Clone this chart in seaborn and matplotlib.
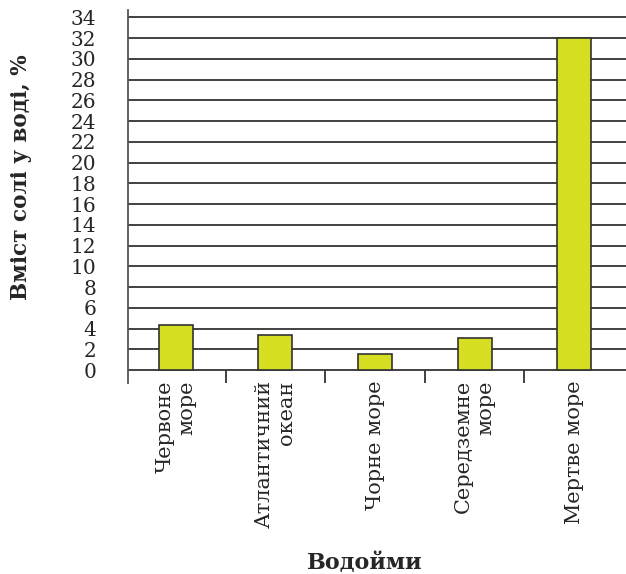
import matplotlib
matplotlib.use("Agg")
import matplotlib.pyplot as plt
import seaborn as sns
import pandas as pd

# data
categories = ["Червоне\nморе", "Атлантичний\nокеан", "Чорне море", "Середземне\nморе", "Мертве море"]
salt = [4.3, 3.4, 1.5, 3.1, 32]
yticks = list(range(0, 35, 2))

df = pd.DataFrame({"water": categories, "salt": salt})

sns.set_style("white")
plt.rcParams["font.family"] = ["DejaVu Serif"]

fig = plt.figure(figsize=(6.26, 5.74), dpi=100)
ax = fig.add_axes([128 / 626, 191 / 574, 498 / 626, 373 / 574])

line_col = "#333333"
sns.barplot(data=df, x="water", y="salt", color="#d6de22", width=0.34,
            edgecolor=line_col, linewidth=1.2, saturation=1, ax=ax, zorder=3)

ax.set_xlim(-0.48, 4.52)
ax.set_ylim(-1.25, 34.7)
ax.set_yticks(yticks)
ax.grid(axis="y", color=line_col, linewidth=1.3, zorder=0)
ax.set_axisbelow(True)

# category separators below the zero line
ax.vlines([i + 0.5 for i in range(len(categories) - 1)], -1.25, 0,
          color=line_col, linewidth=1.3)

for s in ["top", "right", "bottom"]:
    ax.spines[s].set_visible(False)
ax.spines["left"].set_color("#555555")
ax.spines["left"].set_linewidth(1.3)

ax.tick_params(axis="y", length=8, width=1.3, color=line_col, pad=15, labelsize=14.5)
ax.tick_params(axis="x", length=0, pad=-2, labelsize=15)
for lab in ax.get_xticklabels():
    lab.set_rotation(90)
    lab.set_va("top")
    lab.set_ha("center")
    lab.set_multialignment("right")

ax.set_xlabel("Водойми", fontsize=16, fontweight="bold", va="center")
ax.xaxis.set_label_coords(0.476, -0.483)
ax.set_ylabel("Вміст солі у воді, %", fontsize=15.5, fontweight="bold", va="center")
ax.yaxis.set_label_coords(-0.215, 0.552)

fig.savefig("out.png", dpi=100)
